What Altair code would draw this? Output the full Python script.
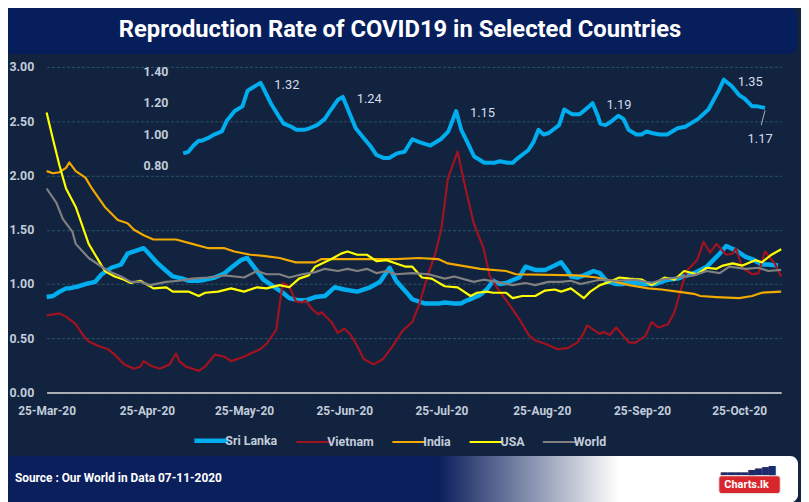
import altair as alt
import pandas as pd

FONT = "Roboto"
BG = "#11233F"
BANNER = "#061E5C"
LBL = "#C3CCDA"
GRID = "#2C5566"

START = pd.Timestamp("2020-03-25")

series_names = ["Sri Lanka", "Vietnam", "India", "USA", "World"]
series_colors = ["#00AEEF", "#A3121F", "#F2A900", "#FFFF00", "#808080"]

sl_days = [0, 2, 4, 6, 7, 10, 12, 15, 17, 20, 23, 25, 27, 30, 31, 34, 37, 39, 42, 44,
           47, 49, 52, 55, 57, 60, 62, 64, 67, 70, 73, 75, 78, 80, 83, 86, 89, 92, 96, 100,
           103, 106, 108, 111, 113, 117, 121, 123, 126, 128, 130, 134, 136, 138, 140, 142, 146, 148, 151, 154,
           157, 159, 161, 162, 164, 166, 169, 171, 173, 176, 178, 180, 182, 185, 188, 192, 195, 197, 200, 204,
           206, 208, 210, 213, 216, 218, 221, 223, 226]
sl_vals = [0.88, 0.89, 0.93, 0.96, 0.96, 0.98, 1.00, 1.02, 1.09, 1.15, 1.18, 1.28, 1.30, 1.33, 1.30, 1.20, 1.12, 1.07, 1.05, 1.03,
           1.03, 1.04, 1.06, 1.10, 1.15, 1.22, 1.24, 1.16, 1.04, 0.98, 0.92, 0.87, 0.85, 0.85, 0.88, 0.89, 0.97, 0.95, 0.93, 0.97,
           1.02, 1.15, 1.03, 0.93, 0.86, 0.82, 0.82, 0.83, 0.82, 0.82, 0.85, 0.90, 0.95, 1.03, 1.00, 1.01, 1.06, 1.16, 1.13, 1.13,
           1.17, 1.20, 1.12, 1.07, 1.06, 1.08, 1.12, 1.10, 1.03, 1.00, 1.00, 1.02, 1.01, 1.00, 1.00, 1.04, 1.05, 1.07, 1.10, 1.16,
           1.22, 1.28, 1.35, 1.31, 1.25, 1.23, 1.18, 1.18, 1.17]

vn_days = [0, 4, 6, 9, 11, 13, 16, 19, 21, 24, 27, 29, 30, 32, 35, 38, 40, 41, 43, 47,
           49, 52, 55, 57, 61, 63, 66, 68, 71, 72, 73, 75, 77, 79, 80, 82, 84, 85, 88, 90,
           92, 94, 96, 98, 101, 104, 107, 110, 113, 115, 118, 120, 122, 124, 127, 129, 132, 135, 137, 140,
           143, 146, 149, 151, 154, 158, 161, 164, 166, 167, 170, 171, 172, 174, 176, 180, 182, 185, 187, 189,
           192, 194, 196, 198, 201, 203, 205, 207, 210, 212, 213, 215, 218, 220, 222, 225, 227]
vn_vals = [0.71, 0.73, 0.70, 0.63, 0.54, 0.47, 0.43, 0.40, 0.35, 0.26, 0.22, 0.24, 0.29, 0.25, 0.22, 0.26, 0.36, 0.29, 0.24, 0.20,
           0.24, 0.35, 0.33, 0.29, 0.33, 0.36, 0.40, 0.45, 0.58, 0.81, 1.01, 0.98, 0.84, 0.83, 0.85, 0.77, 0.72, 0.74, 0.65, 0.55,
           0.59, 0.53, 0.43, 0.31, 0.26, 0.31, 0.43, 0.57, 0.65, 0.80, 1.10, 1.27, 1.51, 1.97, 2.22, 1.94, 1.56, 1.33, 1.07, 0.93,
           0.81, 0.68, 0.53, 0.48, 0.45, 0.40, 0.41, 0.46, 0.55, 0.62, 0.56, 0.54, 0.56, 0.53, 0.60, 0.46, 0.46, 0.52, 0.65, 0.60,
           0.63, 0.74, 0.95, 1.13, 1.22, 1.39, 1.29, 1.37, 1.27, 1.28, 1.33, 1.15, 1.09, 1.10, 1.30, 1.19, 1.07]

in_days = [0, 2, 4, 6, 7, 9, 12, 14, 18, 22, 25, 27, 30, 33, 40, 45, 50, 55, 58, 63,
           67, 72, 77, 83, 85, 96, 108, 115, 121, 124, 134, 142, 145, 164, 170, 176, 180, 186, 190, 195,
           200, 202, 207, 214, 218, 221, 227]
in_vals = [2.04, 2.02, 2.03, 2.07, 2.12, 2.04, 1.98, 1.88, 1.71, 1.59, 1.56, 1.50, 1.45, 1.41, 1.41, 1.37, 1.33, 1.33, 1.30, 1.27,
           1.26, 1.24, 1.20, 1.20, 1.23, 1.23, 1.23, 1.24, 1.23, 1.19, 1.14, 1.12, 1.09, 1.08, 1.06, 1.02, 0.99, 0.96, 0.95, 0.93,
           0.91, 0.89, 0.88, 0.87, 0.89, 0.92, 0.93]

us_days = [0, 2, 4, 6, 9, 11, 13, 15, 16, 18, 21, 24, 26, 29, 33, 37, 39, 44, 47, 49,
           53, 57, 61, 65, 68, 72, 75, 78, 81, 83, 88, 91, 93, 96, 99, 102, 105, 108, 111, 113,
           116, 119, 123, 127, 131, 133, 136, 138, 142, 144, 147, 151, 154, 157, 159, 162, 166, 168, 171, 174,
           177, 180, 184, 187, 191, 194, 197, 201, 204, 207, 209, 212, 215, 219, 221, 224, 227]
us_vals = [2.58, 2.33, 2.09, 1.88, 1.71, 1.54, 1.37, 1.27, 1.22, 1.12, 1.07, 1.04, 1.01, 1.03, 0.96, 0.97, 0.93, 0.93, 0.89, 0.92,
           0.93, 0.96, 0.93, 0.97, 0.96, 0.99, 0.97, 1.05, 1.08, 1.16, 1.23, 1.28, 1.30, 1.27, 1.27, 1.21, 1.22, 1.19, 1.16, 1.16,
           1.06, 1.05, 0.98, 0.97, 0.89, 0.92, 0.93, 0.92, 0.92, 0.87, 0.89, 0.89, 0.94, 0.95, 0.93, 0.96, 0.87, 0.93, 0.99, 1.02,
           1.06, 1.05, 1.04, 0.99, 1.06, 1.04, 1.12, 1.09, 1.15, 1.14, 1.17, 1.19, 1.17, 1.22, 1.20, 1.27, 1.32]

wd_days = [0, 3, 5, 8, 9, 13, 16, 19, 23, 26, 29, 32, 37, 41, 45, 50, 55, 61, 65, 68,
           72, 75, 79, 83, 86, 90, 93, 96, 99, 102, 105, 108, 113, 118, 123, 126, 132, 135, 139, 144,
           148, 151, 155, 159, 162, 165, 171, 176, 182, 187, 190, 195, 200, 204, 208, 211, 216, 220, 223, 227]
wd_vals = [1.88, 1.75, 1.60, 1.48, 1.37, 1.24, 1.18, 1.12, 1.07, 1.02, 1.02, 0.99, 1.02, 1.03, 1.05, 1.06, 1.08, 1.06, 1.12, 1.09,
           1.09, 1.06, 1.09, 1.11, 1.14, 1.12, 1.14, 1.12, 1.14, 1.10, 1.12, 1.09, 1.10, 1.09, 1.05, 1.07, 1.02, 1.04, 1.02, 0.99,
           1.01, 0.99, 1.02, 1.02, 1.03, 1.00, 1.04, 1.03, 1.04, 1.01, 1.04, 1.06, 1.08, 1.12, 1.10, 1.16, 1.14, 1.15, 1.12, 1.13]

y_ticks = [0, 0.5, 1.0, 1.5, 2.0, 2.5, 3.0]
inset_ticks = [0.8, 1.0, 1.2, 1.4]
x_tick_months = [3, 4, 5, 6, 7, 8, 9, 10]

peak_days = [30, 62, 106, 159, 210]
peak_vals = [1.33, 1.24, 1.15, 1.20, 1.35]
peak_text = ["1.32", "1.24", "1.15", "1.19", "1.35"]
end_day, end_val, end_text = 226, 1.17, "1.17"

title_text = "Reproduction Rate of COVID19 in Selected Countries"
source_text = "Source :  Our World in Data 07-11-2020"


def frame(name, days, vals):
    return pd.DataFrame({"date": [START + pd.Timedelta(days=d) for d in days],
                         "value": vals, "series": name})


sl_df = frame("Sri Lanka", sl_days, sl_vals)
others_df = pd.concat([frame("Vietnam", vn_days, vn_vals),
                       frame("India", in_days, in_vals),
                       frame("USA", us_days, us_vals),
                       frame("World", wd_days, wd_vals)])
peaks_df = pd.DataFrame({"date": [START + pd.Timedelta(days=d) for d in peak_days],
                         "value": peak_vals, "label": peak_text})
end_df = pd.DataFrame({"date": [START + pd.Timedelta(days=end_day)], "value": [end_val],
                       "label": [end_text]})
end_df["date2"] = end_df["date"] - pd.Timedelta(hours=36)
end_df["top"] = end_df["value"] - 0.015
end_df["bottom"] = end_df["value"] - 0.11
itick_df = pd.DataFrame({"value": inset_ticks,
                         "label": [f"{v:.2f}" for v in inset_ticks]})

x_scale = alt.Scale(domain=[alt.DateTime(year=2020, month=3, date=25),
                            alt.DateTime(year=2020, month=11, date=7)])
y_scale = alt.Scale(domain=[0, 3], nice=False, zero=False)
x_axis = alt.Axis(values=[alt.DateTime(year=2020, month=m, date=25) for m in x_tick_months],
                  format="%d-%b-%y", labelFont=FONT, labelFontSize=12, labelFontWeight="bold",
                  labelColor=LBL, grid=False, ticks=False, tickSize=0, domainColor="#DADADA",
                  domainWidth=1.5, labelPadding=13, title=None, labelFlush=False,
                  labelOverlap=False)
y_axis = alt.Axis(values=y_ticks, format=".2f", labelFont=FONT, labelFontSize=12.5,
                  labelFontWeight="bold", labelColor=LBL, grid=True, gridColor=GRID,
                  gridDash=[3, 2], gridWidth=1, domain=False, ticks=False, tickSize=0,
                  labelPadding=13, title=None)
legend = alt.Legend(title=None, orient="none", legendX=160, legendY=371, direction="horizontal",
                    symbolType="stroke", symbolSize=1156, labelOffset=8, columnPadding=13,
                    padding=0, labelFont=FONT, labelFontSize=12.5, labelFontWeight="bold",
                    labelColor=LBL,
                    symbolStrokeWidth=alt.ExprRef(expr="datum.value === 'Sri Lanka' ? 4.5 : 2.2"))
color = alt.Color("series:N", scale=alt.Scale(domain=series_names, range=series_colors),
                  legend=legend)

sl_main = alt.Chart(sl_df).mark_line(strokeWidth=4.5, strokeJoin="round").encode(
    x=alt.X("date:T", scale=x_scale, axis=x_axis),
    y=alt.Y("value:Q", scale=y_scale, axis=y_axis),
    color=color)
others = alt.Chart(others_df).mark_line(strokeWidth=2.2, strokeJoin="round").encode(
    x=alt.X("date:T", scale=x_scale, axis=x_axis),
    y=alt.Y("value:Q", scale=y_scale, axis=y_axis),
    color=color)
main = alt.layer(sl_main, others)

ix_scale = alt.Scale(domain=[alt.DateTime(year=2020, month=3, date=25),
                             alt.DateTime(year=2020, month=11, date=6)], range=[138, 725.7])
iy_scale = alt.Scale(domain=[0.8, 1.4], range=[100, 5], nice=False, zero=False)

sl_inset = alt.Chart(sl_df).mark_line(strokeWidth=4, strokeJoin="round", color="#00AEEF").encode(
    x=alt.X("date:T", scale=ix_scale, axis=None),
    y=alt.Y("value:Q", scale=iy_scale, axis=None))
itick_lbl = alt.Chart(itick_df).mark_text(align="right", baseline="middle", font=FONT,
                                          fontSize=12.5, fontWeight="bold", color=LBL).encode(
    x=alt.value(123),
    y=alt.Y("value:Q", scale=iy_scale, axis=None),
    text="label:N")
peak_lbl = alt.Chart(peaks_df).mark_text(align="left", baseline="middle", dx=14, dy=2,
                                         font=FONT, fontSize=13, color="#D5DCE8").encode(
    x=alt.X("date:T", scale=ix_scale, axis=None),
    y=alt.Y("value:Q", scale=iy_scale, axis=None),
    text="label:N")
end_lbl = alt.Chart(end_df).mark_text(align="center", baseline="middle", dx=-5, dy=31,
                                      font=FONT, fontSize=13, color="#D5DCE8").encode(
    x=alt.X("date:T", scale=ix_scale, axis=None),
    y=alt.Y("value:Q", scale=iy_scale, axis=None),
    text="label:N")
leader = alt.Chart(end_df).mark_rule(color="#B0B0B0", strokeWidth=1).encode(
    x=alt.X("date:T", scale=ix_scale, axis=None),
    x2="date2:T",
    y=alt.Y("top:Q", scale=iy_scale, axis=None),
    y2="bottom:Q")
inset = alt.layer(sl_inset, itick_lbl, peak_lbl, end_lbl, leader)

one = pd.DataFrame({"k": [0]})
banner = alt.Chart(one).mark_rect(color=BANNER, cornerRadius=10).encode(
    x=alt.value(-47), x2=alt.value(758), y=alt.value(-62), y2=alt.value(-13))
title = alt.Chart(one).mark_text(align="center", baseline="middle", font=FONT, fontSize=24,
                                 fontWeight="bold", color="white").encode(
    x=alt.value(357), y=alt.value(-37), text=alt.value(title_text))
footer = alt.Chart(one).mark_rect(
    cornerRadius=8,
    color=alt.Gradient(gradient="linear", x1=0, x2=1, y1=0, y2=0,
                       stops=[alt.GradientStop(offset=0, color="#0A1F5C"),
                              alt.GradientStop(offset=0.55, color="#0A1F5C"),
                              alt.GradientStop(offset=0.775, color="#FFFFFF"),
                              alt.GradientStop(offset=1, color="#FFFFFF")])).encode(
    x=alt.value(-47), x2=alt.value(759), y=alt.value(393), y2=alt.value(440))
source = alt.Chart(one).mark_text(align="left", baseline="middle", font=FONT, fontSize=12,
                                  fontWeight="bold", color="white").encode(
    x=alt.value(-32), y=alt.value(415), text=alt.value(source_text))
logo_box = alt.Chart(one).mark_rect(color="#D9262C", cornerRadius=3, stroke="#E8E8E8",
                                    strokeWidth=1).encode(
    x=alt.value(679), x2=alt.value(741), y=alt.value(413), y2=alt.value(431))
logo_text = alt.Chart(one).mark_text(align="center", baseline="middle", font=FONT, fontSize=11,
                                     fontWeight="bold", color="white").encode(
    x=alt.value(707), y=alt.value(422), text=alt.value("Charts.lk"))
logo_bars = alt.Chart(one).mark_text(align="left", baseline="bottom", font="DejaVu Sans",
                                     fontSize=9, color="#1B2B6B").encode(
    x=alt.value(681), y=alt.value(412), text=alt.value("\u2582\u2582\u2582\u2582\u2584\u2585\u2586\u2587"))

chart = alt.layer(banner, title, footer, source, logo_box, logo_text, logo_bars, main, inset).resolve_scale(
    x="independent", y="independent").properties(
    width=742, height=329,
    autosize=alt.AutoSizeParams(type="none"),
    padding={"left": 39, "top": 57, "right": 20, "bottom": 108},
    background=BG,
).configure_view(stroke=None)

chart.save("out.html", embed_options={"renderer": "svg", "actions": False})
